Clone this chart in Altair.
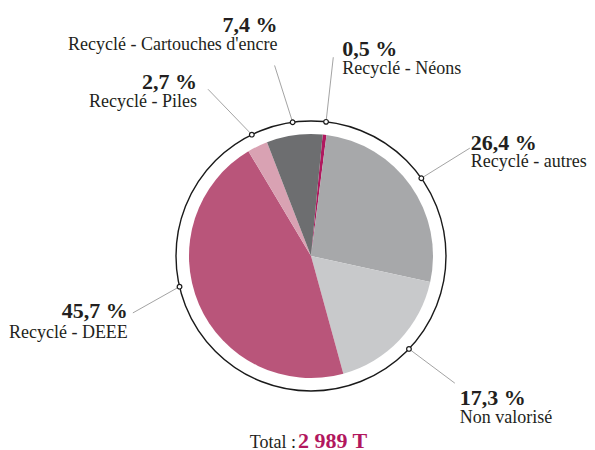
import math
import altair as alt
import pandas as pd

# ---------------- data ----------------
categories = [
    "Recyclé - Néons",
    "Recyclé - autres",
    "Non valorisé",
    "Recyclé - DEEE",
    "Recyclé - Piles",
    "Recyclé - Cartouches d'encre",
]
values = [0.5, 26.4, 17.3, 45.7, 2.7, 7.4]
colors = ["#b0185e", "#a7a8aa", "#c8c9cb", "#b9557a", "#d9a2b3", "#6d6e70"]
total_label = "Total :"
total_value = "2 989 T"

# ---------------- layout ----------------
W, H = 579, 442
CX, CY = 303, 248
R_PIE = 122
R_RING = 135
START_DEG = 5.5
# leader placement tweaks (degrees / px)
dot_nudge = [0, 0, 0, 10, 0, 0]
end_nudge = [0, 1, -2, 5.4, -5.7, -3]
end_r = [200, 192, 192, 187, 196, 194]
side = ["left", "left", "left", "right", "right", "right"]
text_dx = [9, 1, 5, -5, -11, 3]
pct_dy = [-1, 2, 22, 5, 0, -33]
lab_dy = [17, 19, 40, 25, 18, -15]

FONT = "Liberation Serif"
TXT = "#231f20"


def px(angle_deg, r):
    a = math.radians(angle_deg)
    return CX + r * math.sin(a), CY - r * math.cos(a)


rows = []
cum = 0.0
for i, (c, v) in enumerate(zip(categories, values)):
    mid = START_DEG + (cum + v / 2) / 100 * 360
    cum += v
    dx_, dy_ = px(mid + dot_nudge[i], R_RING)
    ex, ey = px(mid + end_nudge[i], end_r[i])
    rows.append(
        dict(
            idx=i,
            category=c,
            value=v,
            pct_text=f"{v:.1f}".replace(".", ",") + " %",
            dot_x=dx_,
            dot_y=dy_,
            end_x=ex,
            end_y=ey,
            side=side[i],
            tx=ex + text_dx[i],
            pty=ey + pct_dy[i],
            lty=ey + lab_dy[i],
        )
    )
df = pd.DataFrame(rows)

start = math.radians(START_DEG)

pie = (
    alt.Chart(df)
    .mark_arc(outerRadius=R_PIE, stroke=None)
    .encode(
        theta=alt.Theta(
            "value:Q",
            stack=True,
            scale=alt.Scale(domain=[0, 100], range=[start, start + 2 * math.pi]),
        ),
        color=alt.Color(
            "category:N",
            scale=alt.Scale(domain=categories, range=colors),
            legend=None,
        ),
        order=alt.Order("idx:Q", sort="ascending"),
        x=alt.value(CX),
        y=alt.value(CY),
    )
)

ring = (
    alt.Chart(alt.Data(values=[{"a": 1}]))
    .mark_arc(
        radius=R_RING,
        theta=0,
        theta2=2 * math.pi,
        fill="white",
        fillOpacity=0,
        stroke="#1a1a1a",
        strokeWidth=1.4,
    )
    .encode(x=alt.value(CX), y=alt.value(CY))
)

rules = (
    alt.Chart(df)
    .mark_rule(color="#8c8c8c", strokeWidth=0.8)
    .encode(
        x=alt.X("dot_x:Q", scale=None, axis=None),
        y=alt.Y("dot_y:Q", scale=None, axis=None),
        x2="end_x:Q",
        y2="end_y:Q",
    )
)

dots = (
    alt.Chart(df)
    .mark_point(
        shape="circle", filled=True, fill="white", stroke="#1a1a1a",
        strokeWidth=1.2, size=22, opacity=1,
    )
    .encode(
        x=alt.X("dot_x:Q", scale=None, axis=None),
        y=alt.Y("dot_y:Q", scale=None, axis=None),
    )
)

text_layers = []
for s in ["left", "right"]:
    base = alt.Chart(df).transform_filter(f"datum.side == '{s}'")
    text_layers.append(
        base.mark_text(
            align=s, baseline="alphabetic", font=FONT, fontSize=22,
            fontWeight="bold", color=TXT,
        ).encode(
            x=alt.X("tx:Q", scale=None, axis=None),
            y=alt.Y("pty:Q", scale=None, axis=None),
            text="pct_text:N",
        )
    )
    text_layers.append(
        base.mark_text(
            align=s, baseline="alphabetic", font=FONT, fontSize=18, color=TXT,
        ).encode(
            x=alt.X("tx:Q", scale=None, axis=None),
            y=alt.Y("lty:Q", scale=None, axis=None),
            text="category:N",
        )
    )

tot_l = (
    alt.Chart(pd.DataFrame({"t": [total_label]}))
    .mark_text(align="right", baseline="alphabetic", font=FONT, fontSize=18, color=TXT)
    .encode(x=alt.value(288), y=alt.value(440), text="t:N")
)
tot_v = (
    alt.Chart(pd.DataFrame({"t": [total_value]}))
    .mark_text(
        align="left", baseline="alphabetic", font=FONT, fontSize=22,
        fontWeight="bold", color="#b2175e",
    )
    .encode(x=alt.value(290), y=alt.value(440), text="t:N")
)

chart = (
    alt.layer(pie, ring, rules, dots, *text_layers, tot_l, tot_v)
    .properties(width=W, height=H, padding=0, autosize=alt.AutoSizeParams(type="none"))
    .configure_view(stroke=None)
)

chart.save("out.html", embed_options={"renderer": "svg", "actions": False})
